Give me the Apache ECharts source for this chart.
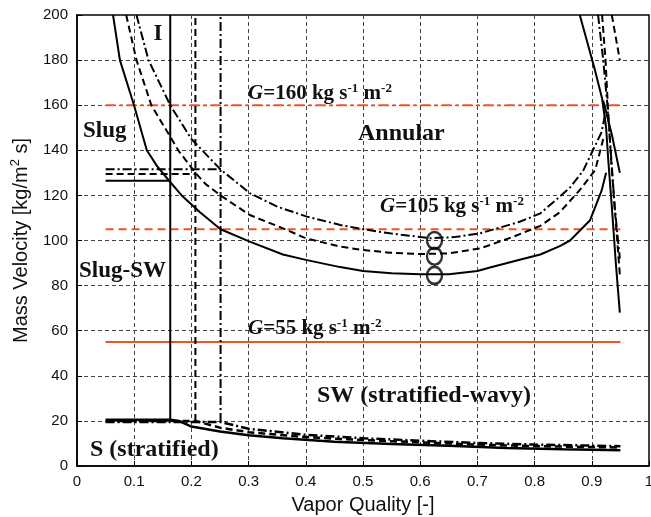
<!DOCTYPE html>
<html><head><meta charset="utf-8">
<script src="https://cdn.jsdelivr.net/npm/echarts@6/dist/echarts.min.js"></script>
<style>html,body{margin:0;padding:0;background:#fff}#c{width:651px;height:517px}</style>
</head><body><div id="c"></div>
<script>
// ---- axis ticks ----
const xTicks = [0, 0.1, 0.2, 0.3, 0.4, 0.5, 0.6, 0.7, 0.8, 0.9, 1];
const yTicks = [0, 20, 40, 60, 80, 100, 120, 140, 160, 180, 200];

// ---- intermittent/annular -> SW boundary (U curves) ----
const solidUpper = [[0.063,200],[0.075,180],[0.0997,160],[0.122,140],[0.14,133],[0.161,126.5],[0.183,120],[0.215,112.5],[0.251,105],[0.302,99.5],[0.36,93.8],[0.40,91.4],[0.46,88.2],[0.50,86.5],[0.55,85.5],[0.60,85],[0.65,85],[0.70,86.5],[0.722,88],[0.774,91.5],[0.81,93.8],[0.844,97.5],[0.862,100],[0.897,109],[0.917,122],[0.925,130]];
const dashedUpper = [[0.086,200],[0.104,180],[0.13,160],[0.163,146],[0.177,140],[0.207,130],[0.225,125],[0.251,120],[0.302,111.3],[0.36,105.4],[0.40,101],[0.46,97.3],[0.50,95.8],[0.547,94.6],[0.60,94],[0.65,94.3],[0.705,96.5],[0.763,101.7],[0.81,106.5],[0.844,112.5],[0.879,122.4],[0.906,131.3],[0.92,145]];
const dashdotUpper = [[0.104,200],[0.125,180],[0.163,160],[0.2,145],[0.251,131.5],[0.302,121],[0.35,115],[0.402,110.6],[0.46,106.9],[0.50,105],[0.547,103.2],[0.617,101],[0.66,101.5],[0.705,103.2],[0.774,108.3],[0.81,112],[0.844,119.5],[0.862,123.5],[0.885,131],[0.917,148],[0.925,158]];

// ---- dryout / mist lines ----
const solidDryout = [[0.879,200],[0.892,188],[0.905,176],[0.918,163],[0.925,150],[0.929,135],[0.935,115],[0.942,90],[0.949,68]];
const solidMist = [[0.92,162],[0.935,147],[0.949,130]];
const dashedDryout = [[0.918,200],[0.924,180],[0.928,160],[0.934,135],[0.942,108],[0.949,85]];
const dashedMist = [[0.935,200],[0.949,180]];
const dashdotDryout = [[0.911,200],[0.92,180],[0.927,161],[0.933,140],[0.94,115],[0.949,92]];

// ---- slug / intermittent vertical and horizontal boundaries ----
const solidVertical = [[0.163,20.5],[0.163,200]];
const dashedVertical = [[0.207,20],[0.207,200]];
const dashdotVertical = [[0.251,19.5],[0.251,200]];
const solidSlugH = [[0.05,126.5],[0.163,126.5]];
const dashedSlugH = [[0.05,129.5],[0.207,129.5]];
const dashdotSlugH = [[0.05,131.6],[0.251,131.6]];

// ---- stratified / SW boundary ----
const solidStrat = [[0.05,20.5],[0.163,20.5],[0.18,19.8],[0.2,17.5],[0.25,15.3],[0.3,13.6],[0.36,12.3],[0.45,10.8],[0.55,9.8],[0.65,9],[0.75,8],[0.85,7.4],[0.95,7]];
const dashedStrat = [[0.05,20],[0.207,20],[0.25,17],[0.3,15],[0.4,12.8],[0.5,11.5],[0.6,10.5],[0.7,9.5],[0.8,8.8],[0.95,8.2]];
const dashdotStrat = [[0.05,19.5],[0.251,19.5],[0.3,16.5],[0.4,13.8],[0.5,12.3],[0.6,11.2],[0.7,10.2],[0.8,9.5],[0.95,8.8]];

// ---- mass velocity lines ----
const g160 = [[0.05,160],[0.95,160]];
const g105 = [[0.05,105],[0.95,105]];
const g55 = [[0.05,55],[0.95,55]];

// ---- transition points (circles) ----
const circlePts = [[0.625,100],[0.625,93],[0.625,84.5]];

const RED = '#f0532a';
const DASH = [7,4];
const DASHDOT = [9,3,2,3];

function ln(data, type, color, width, z) {
  return { type:'line', data, showSymbol:false, symbol:'none', smooth:false, z: z||3,
    lineStyle:{ color: color||'#000', width: width||2, type: type||'solid' }, silent:true, animation:false };
}

const chart = echarts.init(document.getElementById('c'), null, {renderer:'canvas'});
const serif = '"Liberation Serif", "Times New Roman", serif';
const sans = '"Liberation Sans", Arial, sans-serif';

const gRich = {
  gi:{ fontFamily:serif, fontWeight:'bold', fontStyle:'italic', fontSize:21, lineHeight:24, fill:'#111' },
  n:{ fontFamily:serif, fontWeight:'bold', fontSize:21, lineHeight:24, fill:'#111' },
  s:{ fontFamily:serif, fontWeight:'bold', fontSize:13, lineHeight:24, verticalAlign:'top', fill:'#111' }
};
function gLabel(val, x, y) {
  return { type:'text', x, y, z:20, style:{ text:'{gi|G}{n|=' + val + ' kg s}{s|-1}{n| m}{s|-2}', rich:gRich, textVerticalAlign:'top' } };
}
function regionLabel(txt, x, y, align, size) {
  return { type:'text', x, y, z:20, style:{ text:txt, fontFamily:serif, fontWeight:'bold', fontSize:size||23, fill:'#111', textAlign:align||'left', textVerticalAlign:'middle' } };
}

chart.setOption({
  animation:false,
  backgroundColor:'#fff',
  grid:{ left:77, top:15, right:2, bottom:51, show:true, borderColor:'#000', borderWidth:1.5, backgroundColor:'transparent', containLabel:false, outerBoundsMode:'none' },
  xAxis:{ type:'value', min:0, max:1, interval:0.1,
    axisLine:{ show:true, onZero:false, lineStyle:{ color:'#000', width:1.5 } },
    axisTick:{ show:true, inside:true, length:5, lineStyle:{ color:'#000' } },
    axisLabel:{ color:'#111', fontFamily:sans, fontSize:15, margin:8, formatter:v => (v===0?'0':(v===1?'1':v.toFixed(1))) },
    splitLine:{ show:true, lineStyle:{ color:'#444', width:1, type:[4,3] } },
    name:'Vapor Quality [-]', nameLocation:'middle', nameGap:29,
    nameTextStyle:{ color:'#111', fontFamily:sans, fontSize:20 } },
  yAxis:{ type:'value', min:0, max:200, interval:20,
    axisLine:{ show:true, lineStyle:{ color:'#000', width:1.5 } },
    axisTick:{ show:true, inside:true, length:5, lineStyle:{ color:'#000' } },
    axisLabel:{ color:'#111', fontFamily:sans, fontSize:15, margin:9 },
    splitLine:{ show:true, lineStyle:{ color:'#444', width:1, type:[4,3] } },
    name:'{a|Mass Velocity [kg/m}{s|2}{a| s]}', nameLocation:'middle', nameGap:44, nameRotate:90,
    nameTextStyle:{ rich:{
      a:{ color:'#111', fontFamily:sans, fontSize:20, lineHeight:24 },
      s:{ color:'#111', fontFamily:sans, fontSize:13, lineHeight:24, verticalAlign:'top' } } } },
  series:[
    ln(g160, DASHDOT.map(v=>v+1), RED, 2, 2),
    ln(g105, [8,5], RED, 2, 2),
    ln(g55, 'solid', RED, 2, 2),
    ln(solidUpper, 'solid'),
    ln(dashedUpper, DASH),
    ln(dashdotUpper, DASHDOT),
    ln(solidDryout, 'solid'),
    ln(solidMist, 'solid'),
    ln(dashedDryout, DASH),
    ln(dashedMist, DASH),
    ln(dashdotDryout, DASHDOT),
    ln(solidVertical, 'solid'),
    ln(dashedVertical, DASH),
    ln(dashdotVertical, DASHDOT),
    ln(solidSlugH, 'solid'),
    ln(dashedSlugH, DASH),
    ln(dashdotSlugH, DASHDOT),
    ln(solidStrat, 'solid', '#000', 2.5),
    ln(dashedStrat, DASH, '#000', 2.5),
    ln(dashdotStrat, DASHDOT, '#000', 2.5),
    { type:'scatter', data:circlePts, symbol:'circle', symbolSize:[15,17], z:5, silent:true,
      itemStyle:{ color:'rgba(0,0,0,0)', borderColor:'#000', borderWidth:2.5 } }
  ],
  graphic:[
    regionLabel('I', 158, 34, 'center'),
    regionLabel('Slug', 83, 131),
    regionLabel('Annular', 358, 134, 'left', 24),
    regionLabel('Slug-SW', 79, 271),
    regionLabel('SW (stratified-wavy)', 317, 396, 'left', 24),
    regionLabel('S (stratified)', 90, 450, 'left', 24),
    gLabel('160', 248, 82),
    gLabel('105', 380, 195),
    gLabel('55', 248, 317)
  ]
});
</script></body></html>
